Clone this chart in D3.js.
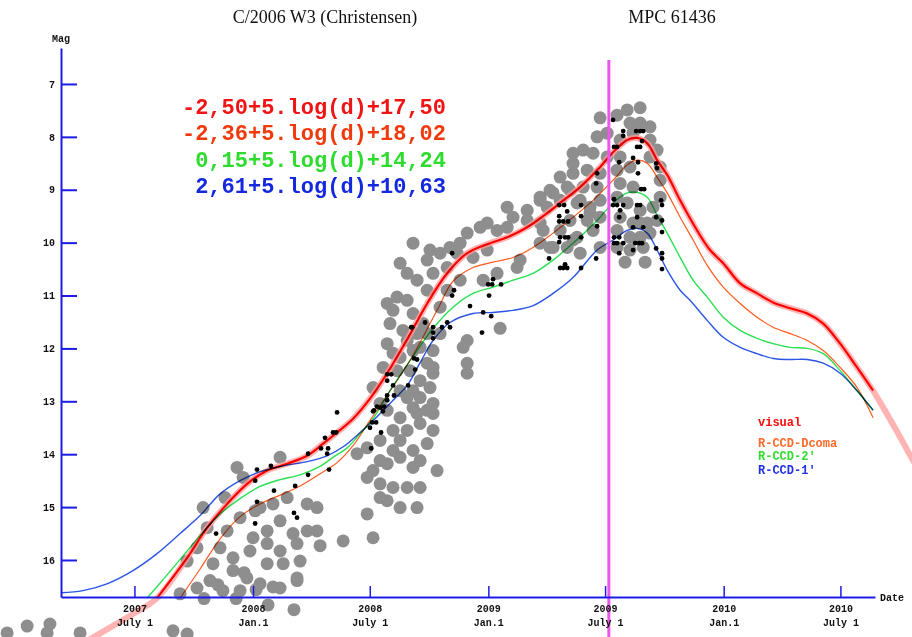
<!DOCTYPE html>
<html>
<head>
<meta charset="utf-8">
<script src="https://cdnjs.cloudflare.com/ajax/libs/d3/7.8.5/d3.min.js"></script>
<style>
  body { margin: 0; background: #fff; }
  .mono { font-family: "Liberation Mono", "DejaVu Sans Mono", monospace; font-weight: bold; }
</style>
</head>
<body>
<div id="chart"></div>
<script>
// chart values (decimal year, magnitude)
var magTicks = [7, 8, 9, 10, 11, 12, 13, 14, 15, 16];
var dateTicks = [2007.496, 2008.0, 2008.496, 2009.0, 2009.496, 2010.0, 2010.496];
var dateTickYear = ["2007", "2008", "2008", "2009", "2009", "2010", "2010"];
var dateTickDay = ["July 1", "Jan.1", "July 1", "Jan.1", "July 1", "Jan.1", "July 1"];
var perihelion = 2009.512;

var formulas = ["-2,50+5.log(d)+17,50", "-2,36+5.log(d)+18,02", "0,15+5.log(d)+14,24", "2,61+5.log(d)+10,63"];
var formulaColors = ["#f01414", "#f03a0c", "#2edc2e", "#1428e0"];
var legendNames = ["visual", "R-CCD-Dcoma", "R-CCD-2'", "R-CCD-1'"];
var legendColors = ["#ff0a0a", "#ff6a2a", "#30dc30", "#2030e8"];

// visual light curve
var visYear = [2007.592,2007.720,2007.805,2007.890,2007.975,2008.060,2008.145,2008.230,2008.298,2008.357,2008.425,2008.497,2008.570,2008.655,2008.740,2008.825,2008.910,2009.007,2009.080,2009.165,2009.250,2009.305,2009.390,2009.475,2009.530,2009.590,2009.632,2009.675,2009.717,2009.760,2009.815,2009.887,2009.942,2009.998,2010.070,2010.142,2010.210,2010.283,2010.355,2010.423,2010.495,2010.567,2010.635];
var visMag = [16.72,15.96,15.39,14.94,14.56,14.31,14.18,14.03,13.80,13.59,13.33,12.95,12.47,11.83,11.15,10.58,10.20,10.01,9.90,9.71,9.44,9.25,8.95,8.57,8.29,8.06,8.02,8.12,8.44,8.72,9.20,9.77,10.14,10.39,10.77,10.96,11.13,11.24,11.34,11.53,11.91,12.36,12.80];
var haloPreYear = [2007.222, 2007.392, 2007.490];
var haloPreMag = [17.72, 17.28, 17.02];
var haloPostYear = [2010.665, 2010.730, 2010.800, 2010.855];
var haloPostMag = [13.02, 13.52, 14.08, 14.50];

// R-CCD-Dcoma
var dcomaYear = [2007.690,2007.775,2007.860,2007.945,2008.030,2008.128,2008.200,2008.285,2008.357,2008.425,2008.497,2008.595,2008.680,2008.782,2008.850,2008.935,2009.020,2009.105,2009.190,2009.275,2009.360,2009.445,2009.530,2009.590,2009.632,2009.675,2009.717,2009.760,2009.815,2009.870,2009.930,2009.998,2010.070,2010.142,2010.210,2010.283,2010.355,2010.423,2010.495,2010.567,2010.635];
var dcomaMag = [16.72,16.17,15.60,15.18,14.94,14.75,14.60,14.37,14.16,13.84,13.36,12.72,12.13,11.28,10.73,10.47,10.37,10.28,10.09,9.82,9.52,9.20,8.82,8.53,8.44,8.50,8.76,9.06,9.52,9.95,10.43,10.84,11.15,11.41,11.60,11.72,11.85,12.04,12.36,12.74,13.31];

// R-CCD-2'
var ccd2Year = [2007.550,2007.660,2007.775,2007.860,2007.945,2008.030,2008.115,2008.200,2008.285,2008.340,2008.400,2008.455,2008.510,2008.582,2008.680,2008.765,2008.850,2008.935,2009.020,2009.105,2009.190,2009.275,2009.360,2009.462,2009.530,2009.590,2009.632,2009.675,2009.717,2009.760,2009.815,2009.870,2009.930,2009.998,2010.070,2010.142,2010.210,2010.283,2010.355,2010.423,2010.495,2010.567,2010.635];
var ccd2Mag = [16.72,16.15,15.54,15.13,14.84,14.61,14.48,14.39,14.23,14.06,13.88,13.61,13.33,12.80,12.15,11.62,11.22,10.96,10.84,10.71,10.58,10.33,10.01,9.58,9.25,9.06,9.05,9.14,9.48,9.82,10.28,10.71,11.03,11.41,11.66,11.81,11.91,11.98,12.00,12.10,12.42,12.80,13.17];

// R-CCD-1'
var ccd1Year = [2007.184,2007.277,2007.379,2007.490,2007.592,2007.690,2007.775,2007.860,2007.945,2008.030,2008.128,2008.230,2008.315,2008.383,2008.455,2008.527,2008.595,2008.655,2008.710,2008.765,2008.837,2008.935,2009.020,2009.105,2009.190,2009.275,2009.360,2009.462,2009.530,2009.590,2009.632,2009.675,2009.717,2009.760,2009.815,2009.857,2009.930,2009.998,2010.070,2010.142,2010.210,2010.283,2010.355,2010.423,2010.495,2010.567,2010.635];
var ccd1Mag = [16.62,16.58,16.45,16.20,15.88,15.50,15.16,14.75,14.50,14.33,14.22,14.14,14.03,13.86,13.59,13.29,12.98,12.70,12.27,11.85,11.51,11.34,11.32,11.28,11.19,10.96,10.66,10.14,9.95,9.77,9.73,9.82,10.14,10.52,10.90,11.09,11.47,11.79,11.98,12.10,12.19,12.21,12.21,12.28,12.47,12.80,13.17];

// visual observations (grey)
var visualObs = [
  [2006.955,17.38],[2007.040,17.25],[2007.137,17.21],[2007.125,17.38],[2007.265,17.38],[2007.660,17.34],[2007.720,17.40],
  [2007.690,16.64],[2007.762,16.53],[2007.792,16.73],[2007.851,16.47],[2007.928,16.73],[2007.962,16.24],[2008.013,16.56],
  [2008.064,16.85],[2008.085,16.51],[2008.174,16.94],[2008.187,16.39],
  [2007.788,15.01],[2007.805,15.39],[2007.890,15.45],[2007.945,15.20],[2008.030,15.01],[2008.085,14.94],[2008.145,14.82],
  [2008.230,14.94],[2008.272,15.01],[2008.115,14.06],[2007.932,14.25],[2007.958,14.44],[2008.060,15.45],[2008.170,15.50],
  [2008.000,15.58],[2007.860,15.77],[2007.915,15.96],[2007.987,15.83],[2008.060,15.69],[2008.115,15.83],[2008.187,15.69],
  [2008.230,15.45],[2008.272,15.45],[2007.830,16.07],[2007.915,16.20],[2007.974,16.34],[2008.060,16.07],[2008.128,16.07],
  [2008.030,16.45],[2008.115,16.53],[2008.187,16.34],[2007.817,16.39],[2007.872,16.58],[2007.945,16.58],[2008.383,15.64],
  [2008.510,15.58],[2007.720,16.02],[2007.762,15.77],[2007.881,14.82],[2008.009,15.07],[2008.115,15.26],[2008.200,16.02],
  [2008.285,15.73],
  [2008.442,13.99],[2008.485,13.88],[2008.540,13.74],[2008.595,13.55],[2008.625,13.31],[2008.680,13.12],[2008.710,12.93],
  [2008.752,12.74],[2008.765,12.47],[2008.510,14.31],[2008.570,14.18],[2008.625,14.06],[2008.680,13.93],[2008.740,13.80],
  [2008.765,13.55],[2008.485,14.44],[2008.540,14.56],[2008.595,14.63],[2008.655,14.63],[2008.710,14.63],[2008.570,14.88],
  [2008.625,15.01],[2008.697,15.01],[2008.485,15.13],[2008.540,14.82],[2008.570,13.17],[2008.655,13.55],[2008.710,13.42],
  [2008.655,12.93],[2008.740,13.17],[2008.765,13.04],[2008.570,11.91],[2008.625,12.17],[2008.680,12.04],[2008.740,12.28],
  [2008.740,11.72],[2008.612,12.42],[2008.667,12.42],[2008.765,12.04],[2008.710,12.61],[2008.595,13.93],[2008.680,14.25],
  [2008.625,13.74],[2008.540,14.12],[2008.710,14.12],[2008.782,14.31],[2008.625,12.80],[2008.680,12.80],
  [2008.680,10.01],[2008.752,10.14],[2008.740,10.33],[2008.795,10.20],[2008.837,10.09],[2008.765,10.58],[2008.825,10.47],
  [2008.880,10.01],[2008.910,9.82],[2008.965,9.71],[2008.995,9.63],[2009.037,9.77],[2009.080,9.71],[2009.105,9.52],
  [2009.080,9.33],[2009.165,9.39],[2009.220,9.20],[2009.275,9.06],[2009.335,8.95],[2009.390,9.20],[2009.432,9.44],
  [2009.165,9.58],[2009.220,9.63],[2009.275,10.09],[2009.360,9.95],[2009.390,10.20],[2009.445,9.77],[2009.122,10.47],
  [2009.135,10.33],[2009.050,11.62],[2008.910,11.85],[2008.893,11.98],[2008.910,12.28],[2008.910,12.47],[2008.723,11.53],
  [2008.680,11.34],[2008.655,11.09],[2008.612,11.03],[2008.570,11.15],[2008.582,11.53],[2008.655,11.85],[2008.710,11.98],
  [2008.697,11.72],[2008.637,11.66],[2008.765,12.36],[2008.765,13.23],[2008.697,13.23],[2008.510,12.74],[2008.553,12.36],
  [2008.595,12.09],[2008.540,13.04],[2008.867,10.20],[2008.935,10.28],[2008.995,10.14],[2008.795,11.22],[2008.825,10.90],
  [2008.880,10.71],[2008.978,10.71],[2009.037,10.58],[2008.740,10.90],[2008.655,10.58],[2008.697,10.71],[2008.625,10.39],
  [2008.595,11.28],[2008.795,11.72],
  [2009.475,7.64],[2009.547,7.59],[2009.590,7.49],[2009.645,7.45],[2009.645,7.74],[2009.602,7.74],[2009.687,7.81],
  [2009.505,7.93],[2009.462,8.00],[2009.560,8.06],[2009.403,8.25],[2009.360,8.31],[2009.445,8.31],[2009.505,8.38],
  [2009.560,8.38],[2009.687,8.06],[2009.717,8.25],[2009.687,8.38],[2009.730,8.57],[2009.730,8.82],[2009.730,9.14],
  [2009.700,9.33],[2009.675,9.63],[2009.645,9.90],[2009.658,10.09],[2009.305,8.76],[2009.262,9.01],[2009.360,8.69],
  [2009.420,8.63],[2009.475,8.69],[2009.347,9.01],[2009.403,8.95],[2009.462,8.95],[2009.220,9.14],[2009.250,9.33],
  [2009.305,9.20],[2009.377,9.25],[2009.432,9.33],[2009.475,9.20],[2009.347,9.58],[2009.420,9.58],[2009.475,9.52],
  [2009.233,9.77],[2009.305,9.77],[2009.377,9.90],[2009.262,10.09],[2009.335,10.09],[2009.220,10.01],[2009.547,8.63],
  [2009.602,8.57],[2009.560,8.88],[2009.615,8.95],[2009.547,9.14],[2009.590,9.25],[2009.645,9.39],[2009.560,9.52],
  [2009.615,9.63],[2009.547,9.77],[2009.602,9.90],[2009.645,9.63],[2009.547,10.09],[2009.602,10.14],[2009.475,10.09],
  [2009.687,9.82],[2009.717,9.58],[2009.615,7.93],[2009.360,8.50],[2009.581,10.37],[2009.666,10.37]
];

// CCD observations (black)
var ccdObs = [
  [2007.843,15.50],[2008.017,14.29],[2008.009,14.50],[2008.076,14.22],[2008.017,14.90],[2008.009,15.31],[2008.089,14.69],
  [2008.179,14.60],[2008.174,15.11],[2008.187,15.20],[2008.234,14.39],[2008.234,13.99],[2008.289,13.89],[2008.306,13.69],
  [2008.319,13.89],[2008.315,13.99],[2008.323,14.29],[2008.340,13.59],[2008.353,13.59],[2008.357,13.21],[2008.497,13.50],
  [2008.502,13.89],[2008.506,13.40],[2008.523,13.40],[2008.544,13.59],[2008.510,13.19],[2008.527,13.10],[2008.552,13.19],
  [2008.557,13.10],[2008.570,12.98],[2008.570,12.89],[2008.599,12.89],[2008.570,12.61],[2008.570,12.49],[2008.587,12.49],
  [2008.595,12.70],[2008.659,12.70],[2008.689,12.40],[2008.684,12.19],[2008.676,11.60],[2008.731,11.51],[2008.765,11.60],
  [2008.765,11.70],[2008.765,11.81],[2008.803,11.60],[2008.825,11.51],[2008.846,10.20],[2008.854,10.90],[2008.846,11.00],
  [2008.999,10.79],[2009.016,10.79],[2009.020,10.69],[2009.054,10.79],[2009.003,11.00],[2008.922,11.20],[2008.978,11.32],
  [2009.012,11.39],[2008.973,11.70],[2008.672,11.60],[2008.837,11.60],[2008.697,12.21],[2008.540,13.12],[2008.514,13.17],
  [2009.301,9.29],[2009.322,9.29],[2009.335,9.41],[2009.301,9.50],[2009.301,9.60],[2009.318,9.60],[2009.339,9.60],
  [2009.394,9.29],[2009.394,9.50],[2009.462,9.69],[2009.305,9.90],[2009.326,9.90],[2009.339,9.90],[2009.301,9.99],
  [2009.394,9.90],[2009.258,10.30],[2009.305,10.48],[2009.318,10.48],[2009.335,10.48],[2009.326,10.41],[2009.394,10.48],
  [2009.458,10.30],[2009.530,7.68],[2009.573,7.89],[2009.573,7.98],[2009.628,7.89],[2009.645,7.89],[2009.658,7.89],
  [2009.547,8.19],[2009.534,8.19],[2009.632,8.19],[2009.645,8.19],[2009.653,8.08],[2009.556,8.48],[2009.615,8.40],
  [2009.636,8.48],[2009.713,8.50],[2009.717,8.59],[2009.462,8.69],[2009.636,8.69],[2009.458,8.88],[2009.649,8.99],
  [2009.662,8.99],[2009.534,9.18],[2009.530,9.29],[2009.547,9.29],[2009.573,9.29],[2009.632,9.29],[2009.645,9.29],
  [2009.560,9.39],[2009.734,9.20],[2009.738,9.29],[2009.556,9.52],[2009.632,9.52],[2009.615,9.71],[2009.658,9.71],
  [2009.713,9.52],[2009.738,9.58],[2009.738,9.80],[2009.534,9.90],[2009.556,9.90],[2009.573,10.01],[2009.534,10.01],
  [2009.547,10.01],[2009.624,10.01],[2009.641,10.01],[2009.653,10.01],[2009.556,10.20],[2009.615,10.14],[2009.713,10.11],
  [2009.738,10.20],[2009.738,10.30],[2009.738,10.50]
];

var svgWidth = 912;
var svgHeight = 637;

var svg = d3.select("#chart")
  .append("svg")
  .attr("width", svgWidth)
  .attr("height", svgHeight)
  .style("display", "block")
  .style("background", "#fff");

// scales
var xScale = d3.scaleLinear().domain([2007.184, 2010.643]).range([61, 875]);
var yScale = d3.scaleLinear().domain([6.32, 16.70]).range([48, 597]);

var line = d3.line()
  .x(d => xScale(d[0]))
  .y(d => yScale(d[1]))
  .curve(d3.curveCatmullRom.alpha(0.5));

// grey visual observations
svg.append("g").selectAll("circle")
  .data(visualObs)
  .enter()
  .append("circle")
  .attr("cx", d => xScale(d[0]))
  .attr("cy", d => yScale(d[1]))
  .attr("r", 6.5)
  .attr("fill", "#8e8e8e");

// pink halo of the visual curve
var haloPts = d3.zip(haloPreYear, haloPreMag)
  .concat(d3.zip(visYear, visMag))
  .concat(d3.zip(haloPostYear, haloPostMag));
svg.append("path")
  .attr("d", line(haloPts))
  .attr("fill", "none")
  .attr("stroke", "#ff9a9a")
  .attr("stroke-opacity", 0.75)
  .attr("stroke-width", 6);

// model curves
var curves = [
  { pts: d3.zip(ccd1Year, ccd1Mag), color: "#2a55e6", w: 1.4 },
  { pts: d3.zip(ccd2Year, ccd2Mag), color: "#28e050", w: 1.4 },
  { pts: d3.zip(dcomaYear, dcomaMag), color: "#ff5a1e", w: 1.2 },
  { pts: d3.zip(visYear, visMag), color: "#ff0000", w: 2.2 }
];
curves.forEach(function(c) {
  svg.append("path")
    .attr("d", line(c.pts))
    .attr("fill", "none")
    .attr("stroke", c.color)
    .attr("stroke-width", c.w)
    .style("mix-blend-mode", "multiply");
});

// perihelion line
svg.append("line")
  .attr("x1", xScale(perihelion))
  .attr("x2", xScale(perihelion))
  .attr("y1", 60)
  .attr("y2", svgHeight)
  .attr("stroke", "#ee55ee")
  .attr("stroke-width", 3);

// black CCD observations
svg.append("g").selectAll("circle")
  .data(ccdObs)
  .enter()
  .append("circle")
  .attr("cx", d => xScale(d[0]))
  .attr("cy", d => yScale(d[1]))
  .attr("r", 2.4)
  .attr("fill", "#000");

// axes
var axisBlue = "#1c1ce6";

var leftAxis = d3.axisLeft(yScale)
  .tickValues(magTicks)
  .tickSizeInner(-16)
  .tickSizeOuter(0)
  .tickPadding(6)
  .tickFormat(d3.format("d"));

var yAxisG = svg.append("g")
  .attr("transform", "translate(61,0)")
  .call(leftAxis);
yAxisG.select(".domain").attr("stroke", axisBlue).attr("stroke-width", 2);
yAxisG.selectAll(".tick line").attr("stroke", axisBlue).attr("stroke-width", 2);
yAxisG.selectAll(".tick text")
  .attr("class", "mono")
  .attr("font-size", "10px")
  .attr("fill", "#111");

var bottomAxis = d3.axisBottom(xScale)
  .tickValues(dateTicks)
  .tickSizeInner(-11)
  .tickSizeOuter(0)
  .tickFormat("");

var xAxisG = svg.append("g")
  .attr("transform", "translate(0,597)")
  .call(bottomAxis);
xAxisG.select(".domain").attr("stroke", axisBlue).attr("stroke-width", 2);
xAxisG.selectAll(".tick line").attr("stroke", axisBlue).attr("stroke-width", 1.5);
xAxisG.selectAll(".tick").each(function(d, i) {
  var t = d3.select(this);
  t.append("text")
    .attr("class", "mono")
    .attr("y", 15)
    .attr("text-anchor", "middle")
    .attr("font-size", "10px")
    .attr("fill", "#111")
    .text(dateTickYear[i]);
  t.append("text")
    .attr("class", "mono")
    .attr("y", 29)
    .attr("text-anchor", "middle")
    .attr("font-size", "10px")
    .attr("fill", "#111")
    .text(dateTickDay[i]);
});

svg.append("text")
  .attr("class", "mono")
  .attr("x", 52)
  .attr("y", 42)
  .attr("font-size", "10px")
  .attr("fill", "#111")
  .text("Mag");

svg.append("text")
  .attr("class", "mono")
  .attr("x", 880)
  .attr("y", 601)
  .attr("font-size", "10px")
  .attr("fill", "#111")
  .text("Date");

// titles
svg.append("text")
  .attr("x", 325)
  .attr("y", 23)
  .attr("text-anchor", "middle")
  .attr("font-family", "Liberation Serif, serif")
  .attr("font-size", "18px")
  .attr("fill", "#111")
  .text("C/2006 W3 (Christensen)");

svg.append("text")
  .attr("x", 672)
  .attr("y", 23)
  .attr("text-anchor", "middle")
  .attr("font-family", "Liberation Serif, serif")
  .attr("font-size", "18px")
  .attr("fill", "#111")
  .text("MPC 61436");

// formulas
var formulaY = [114, 140, 167, 193];
svg.append("g").selectAll("text")
  .data(formulas)
  .enter()
  .append("text")
  .attr("class", "mono")
  .attr("x", 446)
  .attr("y", (d, i) => formulaY[i])
  .attr("text-anchor", "end")
  .attr("font-size", "22px")
  .attr("fill", (d, i) => formulaColors[i])
  .text(d => d);

// legend
var legendY = [426, 447, 460, 474];
svg.append("g").selectAll("text")
  .data(legendNames)
  .enter()
  .append("text")
  .attr("class", "mono")
  .attr("x", 758)
  .attr("y", (d, i) => legendY[i])
  .attr("font-size", "12px")
  .attr("fill", (d, i) => legendColors[i])
  .text(d => d);
</script>
</body>
</html>
